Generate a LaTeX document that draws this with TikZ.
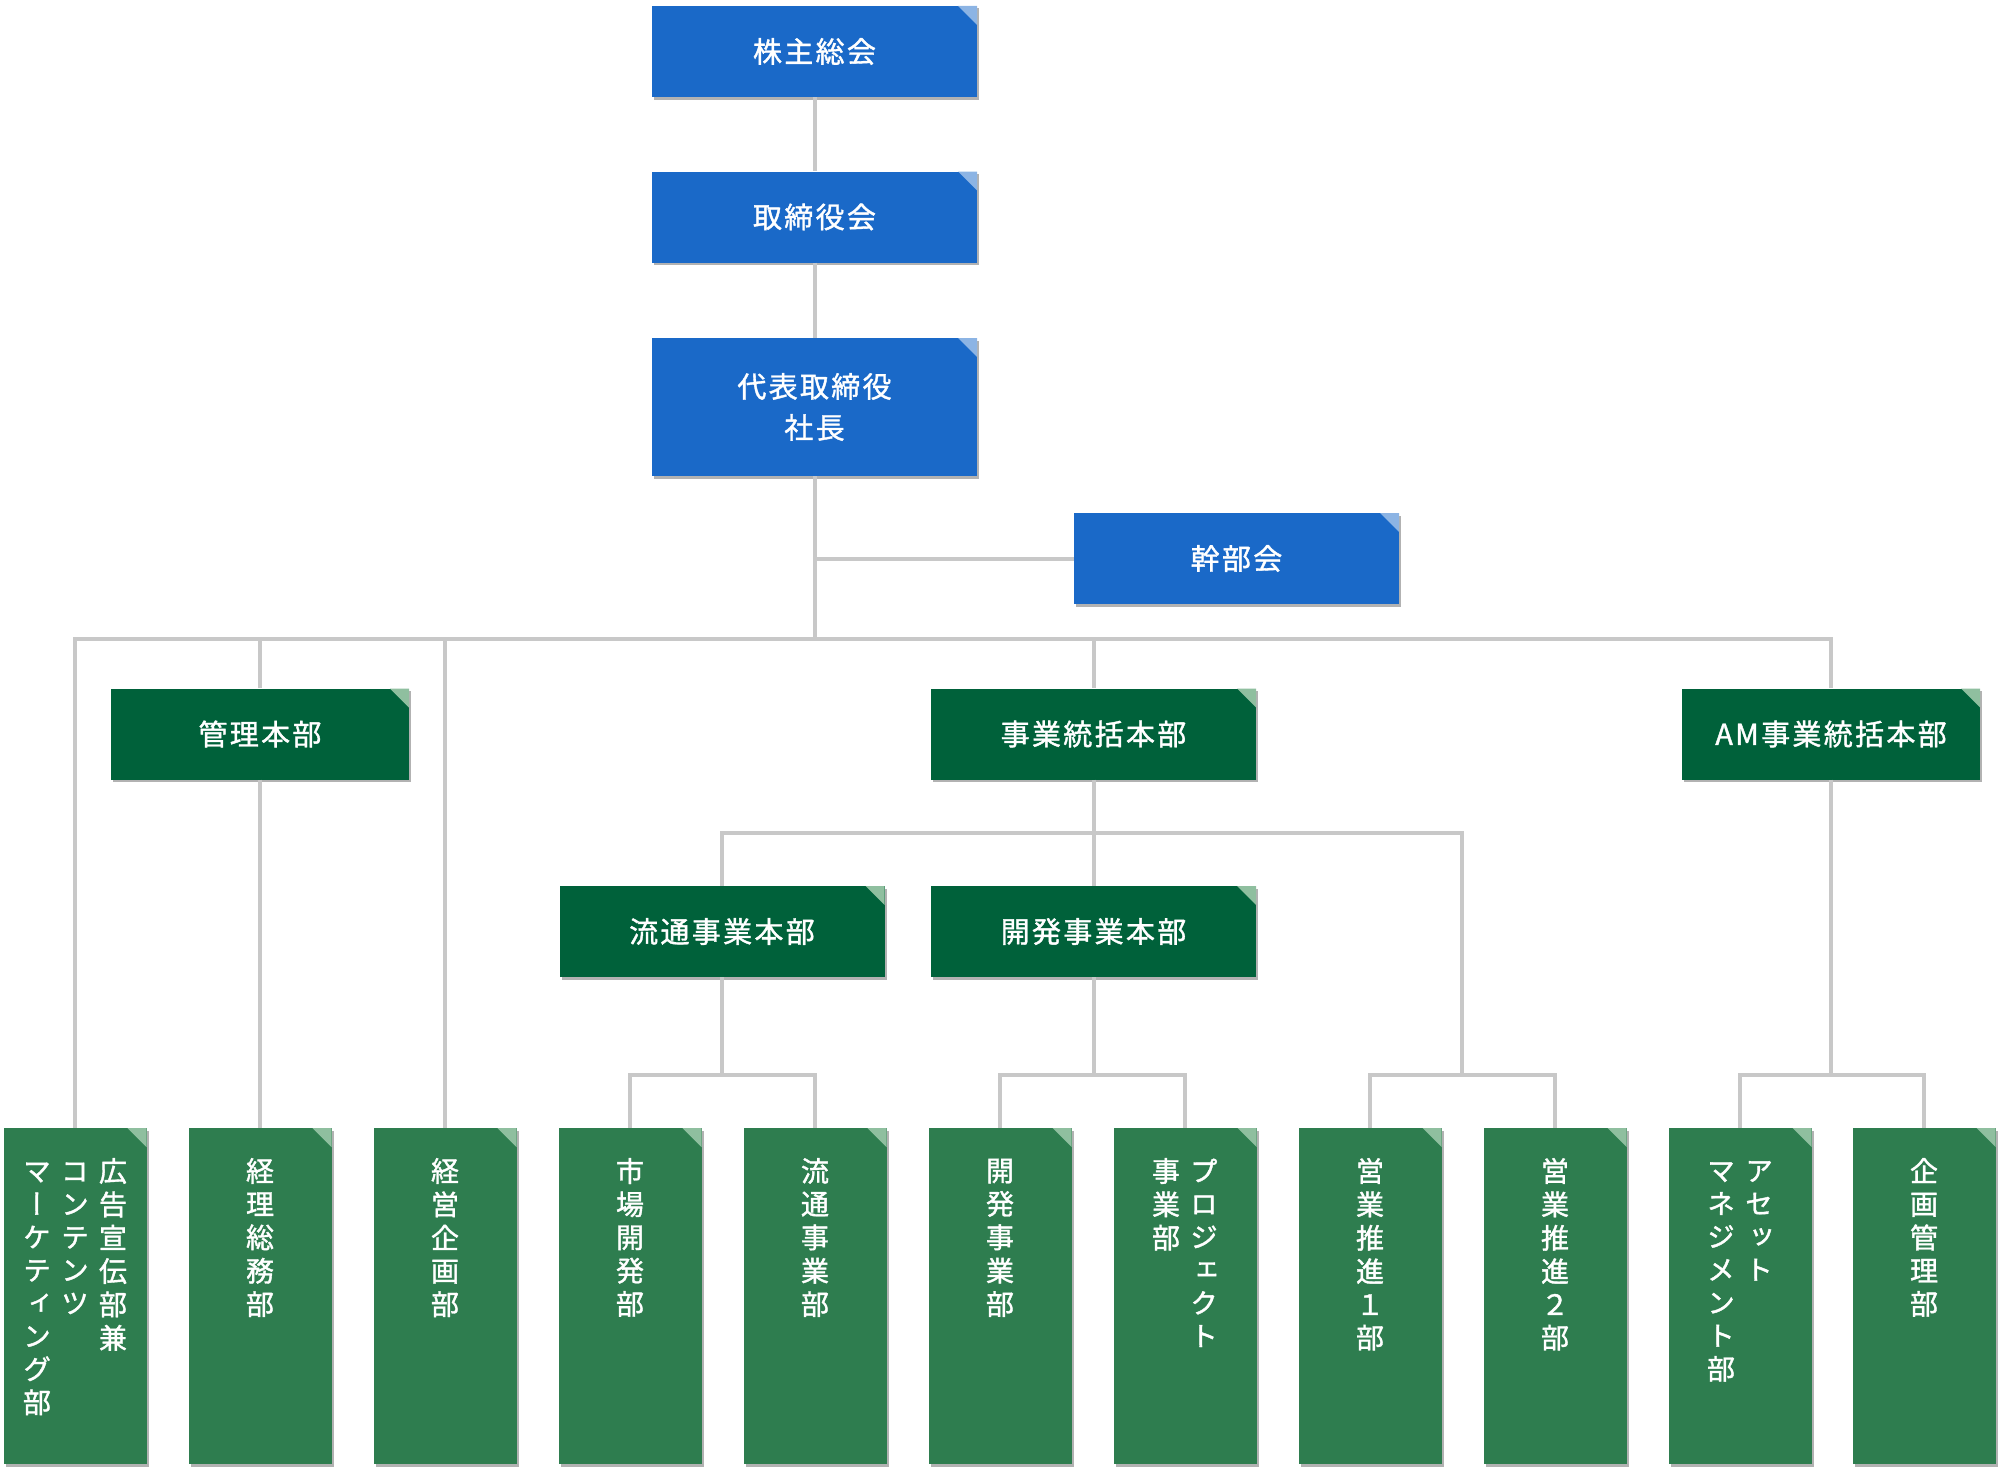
\documentclass[tikz,border=0pt]{standalone}
\usepackage{fontspec}
\setmainfont{Noto Sans CJK JP}[LetterSpace=8,FakeBold=1.3]
\newfontfamily\tatefont{Noto Sans CJK JP}[RawFeature=+vert,FakeBold=1.3]
\usetikzlibrary{shadows}
\definecolor{boardblue}{HTML}{1A69C8}
\definecolor{boardcorner}{HTML}{8CB4E4}
\definecolor{hqgreen}{HTML}{00613A}
\definecolor{deptgreen}{HTML}{2E7D4F}
\definecolor{greencorner}{HTML}{8FBF9F}
\definecolor{linegray}{HTML}{C8C8C8}
% one column of vertical text, and the text block of a department box
\newcommand{\tcol}[1]{\begin{tabular}[t]{@{}c@{}}#1\end{tabular}}
\newcommand{\dept}[1]{\parbox[c][336pt][t]{143pt}{\centering\vspace*{30pt}\tatefont\fontsize{28}{33}\selectfont #1}}

\begin{document}
\begin{tikzpicture}[x=1pt,y=-1pt,
  box/.style={inner sep=0pt, text=white, font=\fontsize{29}{41}\selectfont,
    drop shadow={shadow xshift=2pt, shadow yshift=-2.5pt, fill=black, opacity=0.3}},
  board/.style={box, fill=boardblue, minimum width=325pt, minimum height=91pt,
    path picture={\fill[boardcorner] (path picture bounding box.north east) -- ++(-19pt,0pt) -- ++(19pt,-19pt) -- cycle;}},
  hq/.style={box, fill=hqgreen, minimum width=325pt, minimum height=91pt,
    path picture={\fill[greencorner] (path picture bounding box.north east) -- ++(-19pt,0pt) -- ++(19pt,-19pt) -- cycle;}},
  deptbox/.style={box, fill=deptgreen,
    path picture={\fill[greencorner] (path picture bounding box.north east) -- ++(-19pt,0pt) -- ++(19pt,-19pt) -- cycle;}},
  link/.style={draw=linegray, line width=4pt}]
\useasboundingbox (0,0) rectangle (2000,1472);

% board
\node[board] (kabu) at (814.5,51.5) {株主総会};
\node[board] (tori) at (814.5,217) {取締役会};
\node[board, minimum height=138pt, align=center] (daihyo) at (814.5,407) {代表取締役\\社長};
\node[board] (kanbu) at (1236.5,558.5) {幹部会};

% head offices
\node[hq, minimum width=298pt] (kanri) at (260,734) {管理本部};
\node[hq] (jigyo) at (1093.5,734) {事業統括本部};
\node[hq, minimum width=298pt] (am) at (1831,734) {AM事業統括本部};
\node[hq] (ryutsu) at (722,931.5) {流通事業本部};
\node[hq] (kaihatsu) at (1093.5,931.5) {開発事業本部};

% departments
\node[deptbox] (koukoku) at (75,1296) {\dept{\tcol{マ\\ー\\ケ\\テ\\ィ\\ン\\グ\\部}\hspace{10pt}\tcol{コ\\ン\\テ\\ン\\ツ}\hspace{10pt}\tcol{広\\告\\宣\\伝\\部\\兼}}};
\node[deptbox] (keiri) at (260,1296) {\dept{\tcol{経\\理\\総\\務\\部}}};
\node[deptbox] (keiei) at (445,1296) {\dept{\tcol{経\\営\\企\\画\\部}}};
\node[deptbox] (shijo) at (630,1296) {\dept{\tcol{市\\場\\開\\発\\部}}};
\node[deptbox] (ryutsubu) at (815,1296) {\dept{\tcol{流\\通\\事\\業\\部}}};
\node[deptbox] (kaihatsubu) at (1000,1296) {\dept{\tcol{開\\発\\事\\業\\部}}};
\node[deptbox] (project) at (1185,1296) {\dept{\tcol{事\\業\\部}\hspace{10pt}\tcol{プ\\ロ\\ジ\\ェ\\ク\\ト}}};
\node[deptbox] (eigyo1) at (1370,1296) {\dept{\tcol{営\\業\\推\\進\\１\\部}}};
\node[deptbox] (eigyo2) at (1555,1296) {\dept{\tcol{営\\業\\推\\進\\２\\部}}};
\node[deptbox] (asset) at (1740,1296) {\dept{\tcol{マ\\ネ\\ジ\\メ\\ン\\ト\\部}\hspace{10pt}\tcol{ア\\セ\\ッ\\ト}}};
\node[deptbox] (kikaku) at (1924,1296) {\dept{\tcol{企\\画\\管\\理\\部}}};

% connectors
\coordinate (bus) at (814.5,639);
\coordinate (bus2) at (1093.5,833);
\coordinate (rbus) at (722,1075);
\coordinate (kbus) at (1093.5,1075);
\coordinate (sales) at (1462,1075);
\coordinate (abus) at (1831,1075);
\draw[link] (kabu) -- (tori);
\draw[link] (tori) -- (daihyo);
\draw[link] (daihyo) -- (bus);
\draw[link] (kanbu) -- (kanbu -| bus);
\draw[link] (bus) -| (koukoku);
\draw[link] (bus) -| (kanri);
\draw[link] (bus) -| (keiei);
\draw[link] (bus) -| (jigyo);
\draw[link] (bus) -| (am);
\draw[link] (kanri) -- (keiri);
\draw[link] (jigyo) -- (kaihatsu);
\draw[link] (bus2) -| (ryutsu);
\draw[link] (bus2) -| (sales);
\draw[link] (ryutsu) -- (rbus);
\draw[link] (rbus) -| (shijo);
\draw[link] (rbus) -| (ryutsubu);
\draw[link] (kaihatsu) -- (kbus);
\draw[link] (kbus) -| (kaihatsubu);
\draw[link] (kbus) -| (project);
\draw[link] (sales) -| (eigyo1);
\draw[link] (sales) -| (eigyo2);
\draw[link] (am) -- (abus);
\draw[link] (abus) -| (asset);
\draw[link] (abus) -| (kikaku);
\end{tikzpicture}
\end{document}
